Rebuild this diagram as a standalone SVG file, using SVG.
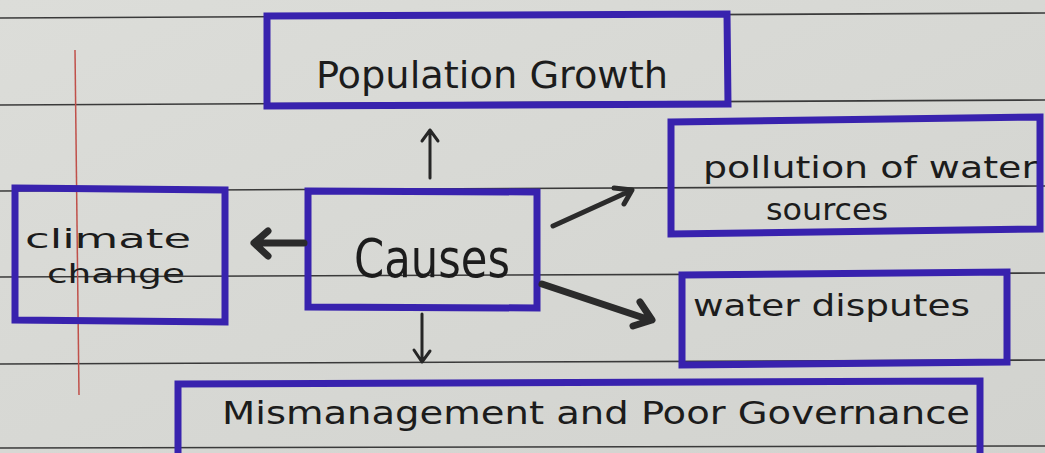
<svg xmlns="http://www.w3.org/2000/svg" width="1045" height="453" viewBox="0 0 1045 453">
<defs>
<style>
.rule{stroke:#3a3a3a;stroke-width:1.6;fill:none}
.box{fill:none;stroke:#3822ae;stroke-width:7;stroke-linejoin:miter;stroke-linecap:square}
.lbl{font-family:"DejaVu Sans Condensed","DejaVu Sans",sans-serif;fill:#1c1c1c}
.thin{stroke:#262626;stroke-width:3;fill:none;stroke-linecap:round;stroke-linejoin:round}
.thick{stroke:#2b2b2b;stroke-width:7;fill:none;stroke-linecap:round;stroke-linejoin:round}
.mid{stroke:#2b2b2b;stroke-width:5;fill:none;stroke-linecap:round;stroke-linejoin:round}
</style>
<linearGradient id="paper" x1="0" y1="0" x2="1" y2="1">
<stop offset="0" stop-color="#dcddd9"/>
<stop offset="1" stop-color="#d2d3cf"/>
</linearGradient>
</defs>
<rect width="1045" height="453" fill="url(#paper)"/>
<g id="paper-lines">
<line class="rule" x1="0" y1="18" x2="1045" y2="13"/>
<line class="rule" x1="0" y1="105" x2="1045" y2="100"/>
<line class="rule" x1="0" y1="191" x2="1045" y2="186"/>
<line class="rule" x1="0" y1="277" x2="1045" y2="273"/>
<line class="rule" x1="0" y1="364" x2="1045" y2="360"/>
<line class="rule" x1="0" y1="448" x2="1045" y2="446"/>
<line x1="75" y1="50" x2="79" y2="395" stroke="#c0504a" stroke-width="1.5"/>
</g>
<g id="node-population">
<path class="box" d="M267,16 L727,14 L728,104 L267,106 Z"/>
<text class="lbl" x="492" y="88" font-size="38" text-anchor="middle" textLength="352" lengthAdjust="spacingAndGlyphs">Population Growth</text>
</g>
<g id="node-pollution">
<path class="box" d="M671,122 L1040,117 L1040,229 L671,234 Z"/>
<text class="lbl" x="703" y="178" font-size="30" textLength="334" lengthAdjust="spacingAndGlyphs">pollution of water</text>
<text class="lbl" x="766" y="220" font-size="30" textLength="122" lengthAdjust="spacingAndGlyphs">sources</text>
</g>
<g id="node-climate">
<path class="box" d="M15,188 L225,190 L225,322 L15,320 Z"/>
<text class="lbl" x="25" y="248" font-size="27" textLength="166" lengthAdjust="spacingAndGlyphs">climate</text>
<text class="lbl" x="47" y="283" font-size="27" textLength="138" lengthAdjust="spacingAndGlyphs">change</text>
</g>
<g id="node-causes">
<path class="box" d="M308,191 L537,192 L537,308 L308,307 Z"/>
<text class="lbl" x="432" y="277" font-size="54" text-anchor="middle" textLength="156" lengthAdjust="spacingAndGlyphs">Causes</text>
</g>
<g id="node-disputes">
<path class="box" d="M682,275 L1007,272 L1007,362 L682,365 Z"/>
<text class="lbl" x="693" y="316" font-size="30" textLength="277" lengthAdjust="spacingAndGlyphs">water disputes</text>
</g>
<g id="node-mismanagement">
<path class="box" d="M178,384 L980,381 L980,460 L178,460 Z"/>
<text class="lbl" x="222" y="424" font-size="32" textLength="748" lengthAdjust="spacingAndGlyphs">Mismanagement and Poor Governance</text>
</g>
<g id="connectors">
<path class="thin" d="M430,178 L430,130 M422,141 L430,130 L438,141"/>
<path class="thin" d="M422,314 L422,362 M414,350 L422,362 L430,351"/>
<path class="thick" d="M304,243 L258,243 M268,231 L254,243 L268,256"/>
<path class="mid" d="M553,226 L630,191 M614,188 L632,190 L624,204"/>
<path class="thick" d="M542,284 L650,320 M640,302 L652,320 L633,326"/>
</g>
</svg>
